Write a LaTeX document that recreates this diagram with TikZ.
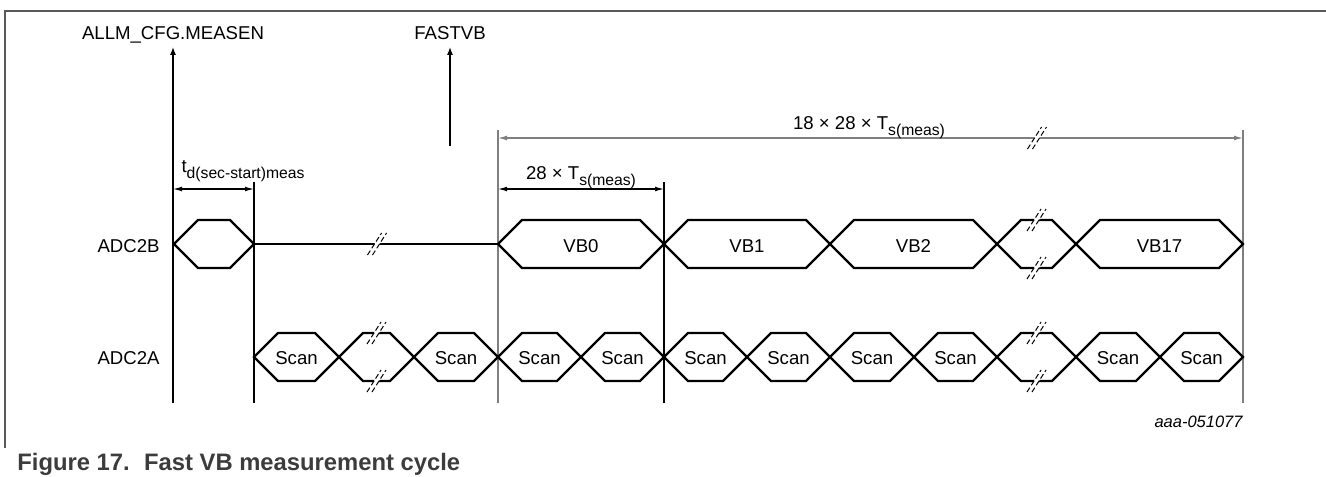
\documentclass[tikz,border=0pt]{standalone}
\usepackage{fontspec}
\setmainfont{Liberation Sans}
\usetikzlibrary{arrows.meta}
\definecolor{framegray}{HTML}{595959}
\definecolor{guidegray}{HTML}{7F7F7F}
\definecolor{capgray}{HTML}{3C3C3C}
\newcommand{\lowtext}[1]{\raisebox{-3pt}{\fontsize{7.85}{9}\selectfont #1}}
% one bus value, from #1 to #2 on the row at #3
\newcommand{\busseg}[3]{%
  \draw[wave] (#1,#3) -- ({#1+24},{#3-24}) -- ({#2-24},{#3-24}) -- (#2,#3)
    -- ({#2-24},{#3+24}) -- ({#1+24},{#3+24}) -- cycle;
}
% the // mark of a cut in time
\newcommand{\breakmark}[2]{%
  \fill[white] ({#1-9.5},{#2+11}) -- ({#1+4.5},{#2-11}) -- ({#1+9.5},{#2-11}) -- ({#1-4.5},{#2+11}) -- cycle;
  \draw[cut] ({#1-9.5},{#2+11}) -- ({#1+4.5},{#2-11});
  \draw[cut] ({#1-4.5},{#2+11}) -- ({#1+9.5},{#2-11});
}

\begin{document}
\begin{tikzpicture}[x=0.5pt,y=-0.5pt,
  wave/.style={line width=1.15pt,black},
  guide/.style={line width=0.6pt,black},
  cut/.style={line width=0.5pt,black,dash pattern=on 2.6pt off 1.4pt},
  dim/.style={line width=0.6pt,{Latex[length=4.5pt,width=2.4pt]}-{Latex[length=4.5pt,width=2.4pt]}},
  sig/.style={line width=0.6pt,-{Latex[length=4pt,width=3pt]}},
  lbl/.style={font=\fontsize{9.3}{11}\selectfont,inner sep=0pt,anchor=base}]
  \useasboundingbox (0,0) rectangle (1326,476);
  \draw[framegray,line width=0.75pt] (5,448) -- (5,11) -- (1326,11);

  % time marks
  \coordinate (allmbot) at (173,403);
  \coordinate (allmtip) at (173,47);
  \coordinate (fastbot) at (450,146);
  \coordinate (fasttip) at (450,47);
  \coordinate (startbot) at (254,403);
  \coordinate (starttop) at (254,182);
  \coordinate (vbbot) at (498,403);
  \coordinate (vbtop) at (498,130);
  \coordinate (onebot) at (664,403);
  \coordinate (onetop) at (664,182);
  \coordinate (endbot) at (1243,403);
  \coordinate (endtop) at (1243,130);

  \node[lbl] (allm) at (173,40) {ALLM\_CFG.MEASEN};
  \node[lbl] (fastvb) at (450,40) {FASTVB};
  \draw[sig] (allmbot) -- (allmtip);
  \draw[sig] (fastbot) -- (fasttip);
  \draw[guide] (startbot) -- (starttop);
  \draw[guide] (onebot) -- (onetop);
  \draw[guide,guidegray,line width=0.75pt] (vbbot) -- (vbtop);
  \draw[guide,guidegray,line width=0.75pt] (endbot) -- (endtop);

  % dimensions
  \coordinate (tdl) at (173,189);
  \coordinate (tdr) at (254,189);
  \coordinate (onel) at (498,189);
  \coordinate (oner) at (664,189);
  \coordinate (alll) at (498,138);
  \coordinate (allr) at (1243,138);
  \draw[dim] (tdl) -- (tdr);
  \draw[dim] (onel) -- (oner);
  \draw[dim,guidegray] (alll) -- (allr);
  \breakmark{1037}{138}
  \node[lbl] (tdlab) at (243,172) {t\lowtext{d(sec-start)meas}};
  \node[lbl] (dimone) at (581,179) {28 × T\lowtext{s(meas)}};
  \node[lbl] (dimall) at (869,129) {18 × 28 × T\lowtext{s(meas)}};

  % ADC2B
  \node[lbl,anchor=base east] (adcb) at (160,252) {ADC2B};
  \busseg{174}{254}{244}
  \draw[wave] (254,244) -- (498,244);
  \breakmark{377}{244}
  \foreach \xa/\xb/\txt [count=\i] in {498/664/VB0,664/830/VB1,830/997/VB2,1076/1243/VB17} {
    \busseg{\xa}{\xb}{244}
    \node[lbl] (vb\i) at ({(\xa+\xb)/2},252) {\txt};
  }

  % ADC2A
  \node[lbl,anchor=base east] (adca) at (160,364) {ADC2A};
  \foreach \xa/\xb [count=\i] in {254/339,414/498,498/581,581/664,664/747,747/830,830/914,914/997,1076/1160,1160/1243} {
    \busseg{\xa}{\xb}{357}
    \node[lbl] (scan\i) at ({(\xa+\xb)/2},364) {Scan};
  }

  % cuts in both rows
  \foreach \xa/\xb/\yc in {997/1076/244,339/414/357,997/1076/357} {
    \busseg{\xa}{\xb}{\yc}
    \breakmark{(\xa+\xb)/2}{\yc-24}
    \breakmark{(\xa+\xb)/2}{\yc+24}
  }

  \node[anchor=base east,inner sep=0pt,font=\fontsize{8.25}{10}\selectfont\itshape] (figid) at (1243,427) {aaa-051077};
  \node[anchor=base west,inner sep=0pt,text=capgray,font=\fontsize{11.9}{13}\selectfont\bfseries] (caption) at (17,470) {Figure 17.\hspace{0.6em}Fast VB measurement cycle};
\end{tikzpicture}
\end{document}
